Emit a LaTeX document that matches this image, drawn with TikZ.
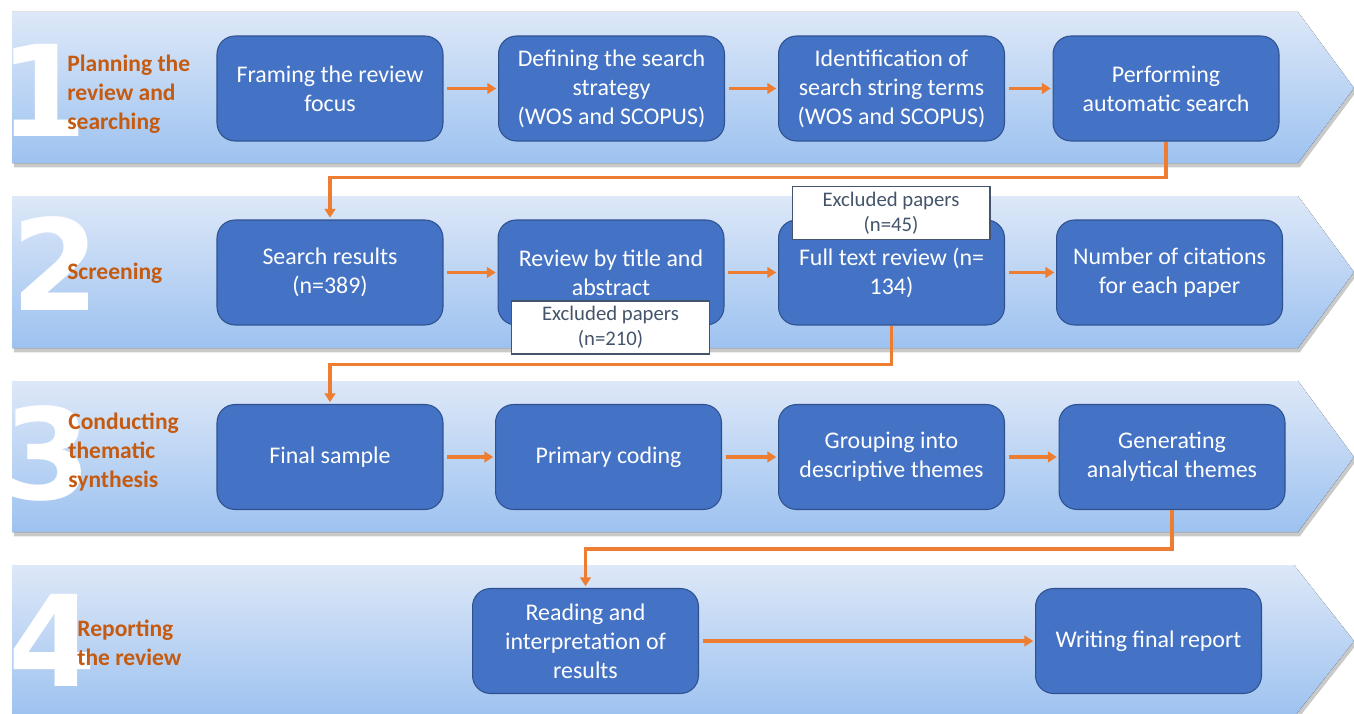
\documentclass[tikz,border=0pt]{standalone}
\usepackage{fontspec}
\setmainfont{Carlito}
\newfontfamily\bignum{DejaVu Sans}
\usepackage{tikz}
\usetikzlibrary{positioning}
\usetikzlibrary{arrows.meta}
\usetikzlibrary{shadows}
\usepackage{xcolor}
\definecolor{bandtop}{HTML}{DDE8F8}
\definecolor{bandbot}{HTML}{9DC2F0}
\definecolor{boxblue}{HTML}{4472C4}
\definecolor{boxedge}{HTML}{2F528F}
\definecolor{stagetext}{HTML}{C55A11}
\definecolor{linkorange}{HTML}{ED7D31}
\definecolor{notegray}{HTML}{44546A}

\begin{document}
\begin{tikzpicture}[x=0.02cm, y=-0.02cm,
  band/.style={top color=bandtop, bottom color=bandbot, draw=none,
    drop shadow={shadow xshift=1pt, shadow yshift=-2.5pt, opacity=0.3, fill=black!70}},
  bignumber/.style={text=white, font=\bignum\bfseries\fontsize{72}{72}\selectfont, inner sep=0pt},
  phase/.style={anchor=west, align=left, text=stagetext, inner sep=0pt,
    font=\bfseries\fontsize{13.4}{16.5}\selectfont},
  stepbox/.style={rectangle, rounded corners=0.36cm, fill=boxblue, draw=boxedge, line width=0.6pt,
    minimum width=4.52cm, minimum height=2.1cm, text=white, align=center,
    font=\fontsize{13.6}{16.5}\selectfont},
  excluded/.style={rectangle, fill=white, draw=notegray, line width=0.6pt, text=notegray,
    minimum width=3.96cm, minimum height=1.06cm, align=center, inner sep=1pt,
    font=\fontsize{11.8}{14.2}\selectfont},
  link/.style={linkorange, line width=1.8pt, -{Triangle[length=5pt,width=6pt]}}
]

\useasboundingbox (0,0) rectangle (1354,713);

% the four chevron bands
\fill[band] (12,12) -- (1298,12) -- (1354,88) -- (1298,163) -- (12,163) -- cycle;
\fill[band] (12,196) -- (1298,196) -- (1354,272) -- (1298,348) -- (12,348) -- cycle;
\fill[band] (12,381) -- (1298,381) -- (1354,457) -- (1298,532) -- (12,532) -- cycle;
\fill[band] (12,565) -- (1294,565) -- (1354,641) -- (1294,717) -- (12,717) -- cycle;

\node[bignumber] (num1) at (44,90) {1};
\node[bignumber] (num2) at (56,264) {2};
\node[bignumber] (num3) at (48,453) {3};
\node[bignumber] (num4) at (53,640) {4};

\node[phase] (phase1) at (67,94) {Planning the\\review and\\searching};
\node[phase] (phase2) at (67,273) {Screening};
\node[phase] (phase3) at (68,452) {Conducting\\thematic\\synthesis};
\node[phase] (phase4) at (77,643) {Reporting\\the review};

% stage 1
\node[stepbox] (plan1) at (330,88.5) {Framing the review\\focus};
\node[stepbox] (plan2) at (611.5,88.5) {Defining the search\\strategy\\(WOS and SCOPUS)};
\node[stepbox] (plan3) at (891.5,88.5) {Identification of\\search string terms\\(WOS and SCOPUS)};
\node[stepbox] (plan4) at (1166,88.5) {Performing\\automatic search};

% stage 2
\node[stepbox] (screen1) at (330,272.5) {Search results\\(n=389)};
\node[stepbox] (screen2) at (611,272.5) {Review by title and\\abstract};
\node[stepbox] (screen3) at (891.5,272.5) {Full text review (n=\\134)};
\node[stepbox] (screen4) at (1169.5,272.5) {Number of citations\\for each paper};

% stage 3
\node[stepbox] (synth1) at (330,457) {Final sample};
\node[stepbox] (synth2) at (608.5,457) {Primary coding};
\node[stepbox] (synth3) at (891.5,457) {Grouping into\\descriptive themes};
\node[stepbox] (synth4) at (1172,457) {Generating\\analytical themes};

% stage 4
\node[stepbox] (report1) at (585.5,641) {Reading and\\interpretation of\\results};
\node[stepbox] (report2) at (1148.5,641) {Writing final report};

\draw[link, shorten <=2pt, shorten >=1pt] (plan1) -- (plan2);
\draw[link, shorten <=2pt, shorten >=1pt] (plan2) -- (plan3);
\draw[link, shorten <=2pt, shorten >=1pt] (plan3) -- (plan4);
\draw[link, shorten <=2pt, shorten >=1pt] (screen1) -- (screen2);
\draw[link, shorten <=2pt, shorten >=1pt] (screen2) -- (screen3);
\draw[link, shorten <=2pt, shorten >=1pt] (screen3) -- (screen4);
\draw[link, shorten <=2pt, shorten >=1pt] (synth1) -- (synth2);
\draw[link, shorten <=2pt, shorten >=1pt] (synth2) -- (synth3);
\draw[link, shorten <=2pt, shorten >=1pt] (synth3) -- (synth4);
\draw[link, shorten <=2pt, shorten >=1pt] (report1) -- (report2);

\draw[link, shorten >=1pt] (plan4.south) -- ++(0,36) -| (screen1.north);
\draw[link, shorten >=1pt] (screen3.south) -- ++(0,39) -| (synth1.north);
\draw[link, shorten >=1pt] (synth4.south) -- ++(0,39) -| (report1.north);

\node[excluded] (drop1) at (610.5,327.5) {Excluded papers\\(n=210)};
\node[excluded] (drop2) at (891,213) {Excluded papers\\(n=45)};

\end{tikzpicture}
\end{document}
